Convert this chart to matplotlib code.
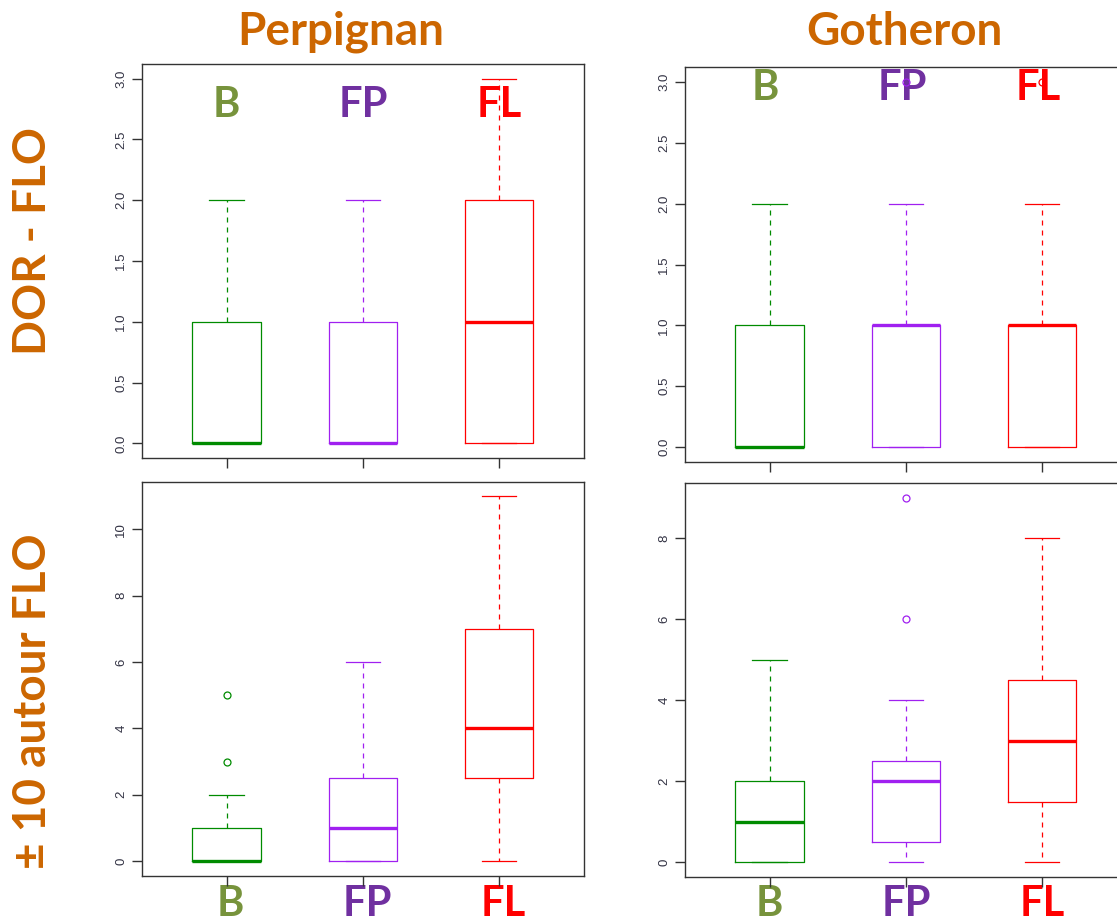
import matplotlib
matplotlib.use('Agg')
import matplotlib.pyplot as plt
import matplotlib.transforms as mtransforms

# group names and label colours
groups = ['B', 'FP', 'FL']
label_colors = ['#77933C', '#7030A0', '#FF0000']
box_colors = ['#008B00', '#A020F0', '#FF0000']
title_color = '#CC6600'

sites = ['Perpignan', 'Gotheron']
rows = ['DOR - FLO', '\u00b1 10 autour FLO']

# five numbers per box: whislo, q1, med, q3, whishi
perp_dor_stats = [[0, 0, 0, 1, 2], [0, 0, 0, 1, 2], [0, 0, 1, 2, 3]]
perp_dor_fliers = [[], [], []]
goth_dor_stats = [[0, 0, 0, 1, 2], [0, 0, 1, 1, 2], [0, 0, 1, 1, 2]]
goth_dor_fliers = [[], [3], [3]]
perp_flo_stats = [[0, 0, 0, 1, 2], [0, 0, 1, 2.5, 6], [0, 2.5, 4, 7, 11]]
perp_flo_fliers = [[3, 5], [], []]
goth_flo_stats = [[0, 0, 1, 2, 5], [0, 0.5, 2, 2.5, 4], [0, 1.5, 3, 4.5, 8]]
goth_flo_fliers = [[], [6, 9], []]

dor_ticks = [0, 0.5, 1, 1.5, 2, 2.5, 3]
perp_flo_ticks = [0, 2, 4, 6, 8, 10]
goth_flo_ticks = [0, 2, 4, 6, 8]

fig = plt.figure(figsize=(11.17, 9.22), dpi=100)

# [left, bottom, width, height], label y (axes frac), label x offset
panels = [
    (perp_dor_stats, perp_dor_fliers, dor_ticks, '%.1f', [0.1271, 0.5033, 0.3957, 0.4273], 0.896, 0.0),
    (goth_dor_stats, goth_dor_fliers, dor_ticks, '%.1f', [0.6132, 0.4992, 0.3957, 0.4278], 0.9475, -0.03),
    (perp_flo_stats, perp_flo_fliers, perp_flo_ticks, '%d', [0.1271, 0.0502, 0.3957, 0.4274], -0.071, 0.03),
    (goth_flo_stats, goth_flo_fliers, goth_flo_ticks, '%d', [0.6132, 0.0488, 0.3957, 0.4270], -0.068, 0.0),
]

lab_font = dict(family='Lato', weight='bold')

for stats, fliers, ticks, fmt, rect, lab_y, lab_dx in panels:
    ax = fig.add_axes(rect)
    allv = []
    for i, (s, fl) in enumerate(zip(stats, fliers)):
        d = dict(whislo=s[0], q1=s[1], med=s[2], q3=s[3], whishi=s[4], fliers=fl)
        c = box_colors[i]
        ax.bxp([d], positions=[i + 1], widths=0.5, showfliers=True,
               boxprops=dict(color=c, lw=0.9),
               medianprops=dict(color=c, lw=2.4, solid_capstyle='butt'),
               whiskerprops=dict(color=c, lw=0.9, ls=(0, (4, 4))),
               capprops=dict(color=c, lw=0.9), capwidths=0.25,
               flierprops=dict(marker='o', markersize=5, markerfacecolor='none',
                               markeredgecolor=c, markeredgewidth=0.9, zorder=5))
        allv += s + fl
    lo, hi = min(allv), max(allv)
    pad = 0.04 * (hi - lo)
    ax.set_ylim(lo - pad, hi + pad)
    ax.set_xlim(0.38, 3.62)
    ax.set_yticks(ticks)
    ax.set_yticklabels([fmt % t for t in ticks], rotation=90, va='center',
                       fontsize=9.5, color='#333344', family='Liberation Sans')
    ax.set_xticks([1, 2, 3])
    ax.set_xticklabels([])
    ax.tick_params(direction='out', length=7, width=1, color='#333333')
    for sp in ax.spines.values():
        sp.set_color('#333333')
        sp.set_linewidth(1)
    trans = mtransforms.blended_transform_factory(ax.transData, ax.transAxes)
    for i, g in enumerate(groups):
        ax.text(i + 1 + lab_dx, lab_y, g, transform=trans, ha='center', va='center',
                fontsize=30, color=label_colors[i], clip_on=False, zorder=1, **lab_font)

# column titles
fig.text(341 / 1117, 1 - 32 / 922, sites[0], ha='center', va='center',
         fontsize=33, color=title_color, **lab_font)
fig.text(904 / 1117, 1 - 32 / 922, sites[1], ha='center', va='center',
         fontsize=33, color=title_color, **lab_font)
# row titles
fig.text(33 / 1117, 1 - 241 / 922, rows[0], ha='center', va='center', rotation=90,
         fontsize=33, color=title_color, **lab_font)
fig.text(33 / 1117, 1 - 701 / 922, rows[1], ha='center', va='center', rotation=90,
         fontsize=33, color=title_color, **lab_font)

fig.savefig('out.png', dpi=100)
